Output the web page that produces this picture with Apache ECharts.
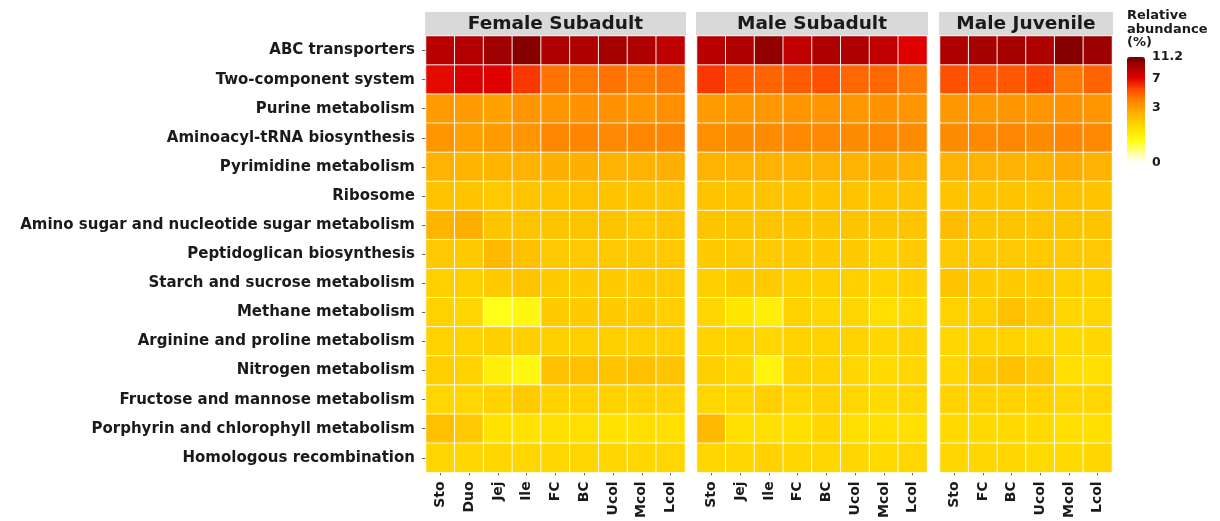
<!DOCTYPE html>
<html>
<head>
<meta charset="utf-8">
<script src="https://cdn.jsdelivr.net/npm/echarts@6/dist/echarts.min.js"></script>
<style>
  html, body { margin: 0; padding: 0; background: #ffffff; }
  #chart { width: 1220px; height: 521px; }
</style>
</head>
<body>
<div id="chart"></div>
<script>
// KEGG pathways (rows, top to bottom)
const pathways = [
  'ABC transporters',
  'Two-component system',
  'Purine metabolism',
  'Aminoacyl-tRNA biosynthesis',
  'Pyrimidine metabolism',
  'Ribosome',
  'Amino sugar and nucleotide sugar metabolism',
  'Peptidoglican biosynthesis',
  'Starch and sucrose metabolism',
  'Methane metabolism',
  'Arginine and proline metabolism',
  'Nitrogen metabolism',
  'Fructose and mannose metabolism',
  'Porphyrin and chlorophyll metabolism',
  'Homologous recombination'
];

// Gut sections sampled in each group
const sectionsFemaleSubadult = ['Sto', 'Duo', 'Jej', 'Ile', 'FC', 'BC', 'Ucol', 'Mcol', 'Lcol'];
const sectionsMaleSubadult = ['Sto', 'Jej', 'Ile', 'FC', 'BC', 'Ucol', 'Mcol', 'Lcol'];
const sectionsMaleJuvenile = ['Sto', 'FC', 'BC', 'Ucol', 'Mcol', 'Lcol'];

// Relative abundance (%), one row per pathway, one column per section
const femaleSubadult = [
  [8.7, 8.9, 9.6, 10.4, 9.1, 9.1, 9.4, 9.1, 8.5],
  [6.9, 7.4, 7.2, 5.8, 4.3, 4.2, 4.3, 4.1, 4.3],
  [3.1, 3.1, 2.9, 3.3, 3.3, 3.4, 3.4, 3.3, 3.5],
  [3.3, 3.0, 3.1, 3.3, 3.8, 3.9, 3.7, 3.8, 3.9],
  [2.4, 2.3, 2.3, 2.4, 2.5, 2.5, 2.4, 2.4, 2.5],
  [1.9, 1.9, 1.8, 1.9, 1.9, 2.0, 1.9, 1.9, 1.9],
  [2.3, 2.5, 1.9, 1.9, 1.9, 1.9, 1.9, 1.8, 1.9],
  [1.8, 1.7, 2.2, 2.0, 1.8, 1.8, 1.8, 1.8, 1.8],
  [1.6, 1.6, 1.7, 1.9, 1.7, 1.7, 1.7, 1.7, 1.7],
  [1.5, 1.4, 0.45, 0.6, 1.7, 1.7, 1.7, 1.7, 1.6],
  [1.5, 1.5, 1.6, 1.6, 1.6, 1.6, 1.6, 1.6, 1.6],
  [1.6, 1.5, 0.8, 0.6, 2.0, 2.0, 1.9, 2.0, 1.9],
  [1.4, 1.4, 1.5, 1.7, 1.5, 1.5, 1.5, 1.5, 1.5],
  [2.0, 1.8, 1.1, 1.1, 1.2, 1.2, 1.1, 1.2, 1.2],
  [1.4, 1.4, 1.4, 1.4, 1.4, 1.4, 1.4, 1.4, 1.4]
];

const maleSubadult = [
  [8.7, 9.1, 10.0, 8.4, 9.1, 9.1, 8.4, 7.2],
  [5.8, 4.9, 4.7, 4.9, 5.2, 4.6, 4.6, 4.2],
  [3.1, 3.2, 3.2, 3.3, 3.3, 3.2, 3.4, 3.3],
  [3.5, 3.6, 3.6, 3.7, 3.7, 3.6, 3.8, 3.6],
  [2.4, 2.4, 2.4, 2.4, 2.4, 2.4, 2.5, 2.4],
  [1.9, 1.9, 1.9, 1.9, 1.9, 1.9, 1.9, 1.9],
  [1.9, 1.9, 1.9, 1.9, 1.9, 1.9, 1.9, 1.9],
  [1.7, 1.8, 1.7, 1.7, 1.7, 1.7, 1.6, 1.7],
  [1.6, 1.7, 1.7, 1.6, 1.6, 1.6, 1.5, 1.6],
  [1.4, 1.0, 0.8, 1.5, 1.4, 1.4, 1.2, 1.3],
  [1.5, 1.5, 1.4, 1.5, 1.5, 1.5, 1.4, 1.5],
  [1.6, 1.4, 0.7, 1.5, 1.5, 1.4, 1.3, 1.4],
  [1.4, 1.4, 1.6, 1.4, 1.5, 1.4, 1.3, 1.4],
  [2.2, 1.2, 1.2, 1.2, 1.4, 1.2, 1.2, 1.2],
  [1.4, 1.4, 1.5, 1.4, 1.4, 1.4, 1.3, 1.4]
];

const maleJuvenile = [
  [9.1, 9.4, 9.4, 9.1, 10.4, 9.7],
  [5.2, 5.0, 5.0, 5.4, 4.2, 4.7],
  [3.2, 3.2, 3.3, 3.3, 3.4, 3.3],
  [3.6, 3.7, 3.8, 3.6, 3.9, 3.7],
  [2.4, 2.4, 2.4, 2.4, 2.6, 2.4],
  [1.9, 1.9, 1.9, 1.9, 2.0, 1.9],
  [2.1, 1.9, 1.9, 1.9, 1.9, 1.9],
  [1.8, 1.8, 1.8, 1.8, 1.8, 1.8],
  [1.9, 1.7, 1.7, 1.7, 1.6, 1.6],
  [1.5, 1.6, 2.0, 1.8, 1.4, 1.4],
  [1.4, 1.5, 1.5, 1.4, 1.3, 1.4],
  [1.4, 1.7, 2.0, 1.8, 1.2, 1.2],
  [1.5, 1.5, 1.5, 1.5, 1.4, 1.4],
  [1.3, 1.3, 1.3, 1.3, 1.2, 1.2],
  [1.4, 1.4, 1.4, 1.3, 1.3, 1.4]
];

const groupTitles = ['Female Subadult', 'Male Subadult', 'Male Juvenile'];
const legendTicks = [11.2, 7, 3, 0];
const scaleMax = 11.2;

// ---- layout ----
const FONT = 'DejaVu Sans';
const TEXT = '#1a1a1a';
const plotTop = 36, plotHeight = 440;
const panels = [
  { left: 426, width: 259, cols: sectionsFemaleSubadult, values: femaleSubadult },
  { left: 697, width: 230, cols: sectionsMaleSubadult, values: maleSubadult },
  { left: 940, width: 172, cols: sectionsMaleJuvenile, values: maleJuvenile }
];

// colour ramp on a square-root scale of abundance
const ramp = ['#ffffff', '#ffff99', '#ffff1a', '#ffe600', '#ffc800', '#ffa500',
              '#ff8000', '#ff4500', '#e00000', '#b00000', '#700000'];
const sqrtMax = Math.sqrt(scaleMax);

const grids = [], xAxes = [], yAxes = [], series = [], graphics = [];

panels.forEach((p, i) => {
  grids.push({ left: p.left, top: plotTop, width: p.width, height: plotHeight });
  xAxes.push({
    type: 'category', gridIndex: i, data: p.cols, position: 'bottom',
    axisLine: { show: false },
    axisTick: { show: true, length: 3, lineStyle: { color: '#666' }, alignWithLabel: true },
    axisLabel: { rotate: 90, margin: 9, fontFamily: FONT, fontWeight: 'bold', fontSize: 14, color: TEXT },
    splitLine: { show: false }
  });
  yAxes.push({
    type: 'category', gridIndex: i, data: pathways, inverse: true,
    axisLine: { show: false },
    axisTick: { show: i === 0, length: 4, lineStyle: { color: '#666' }, alignWithLabel: true },
    axisLabel: { show: i === 0, margin: 11, fontFamily: FONT, fontWeight: 'bold', fontSize: 15, color: TEXT },
    splitLine: { show: false }
  });
  const data = [];
  p.values.forEach((row, r) => {
    row.forEach((v, c) => data.push([c, r, v, Math.sqrt(v)]));
  });
  series.push({
    type: 'heatmap', xAxisIndex: i, yAxisIndex: i, data: data,
    itemStyle: { borderColor: 'rgba(255,255,255,0.9)', borderWidth: 1 },
    emphasis: { disabled: true }
  });
  // facet strip
  graphics.push({
    type: 'rect', left: p.left - 1, top: 12,
    shape: { width: p.width + 2, height: 23 },
    style: { fill: '#d9d9d9' }, silent: true
  });
  graphics.push({
    type: 'text', x: p.left + p.width / 2, y: 24,
    style: {
      text: groupTitles[i], fill: TEXT, font: 'bold 18.5px "DejaVu Sans"',
      textAlign: 'center', textVerticalAlign: 'middle'
    }, silent: true
  });
});

// colour bar legend
const barTop = 57, barHeight = 106, barLeft = 1127;
graphics.push({
  type: 'text', left: barLeft, top: 9,
  style: { text: 'Relative\nabundance\n(%)', fill: TEXT, font: 'bold 13px "DejaVu Sans"', lineHeight: 13.5 },
  silent: true
});
legendTicks.forEach(v => {
  const y = barTop + barHeight * (1 - Math.sqrt(v) / sqrtMax);
  graphics.push({
    type: 'text', x: barLeft + 25, y: y,
    style: { text: String(v), fill: TEXT, font: 'bold 12.5px "DejaVu Sans"', textVerticalAlign: 'middle' },
    silent: true
  });
});

const chart = echarts.init(document.getElementById('chart'), null, { renderer: 'canvas' });
chart.setOption({
  backgroundColor: '#ffffff',
  animation: false,
  grid: grids,
  xAxis: xAxes,
  yAxis: yAxes,
  visualMap: {
    type: 'continuous', dimension: 3, min: 0, max: sqrtMax,
    seriesIndex: [0, 1, 2],
    left: barLeft, top: barTop, itemWidth: 18, itemHeight: barHeight,
    padding: 0, calculable: false, hoverLink: false, text: null,
    showLabel: false,
    inRange: { color: ramp }
  },
  series: series,
  graphic: graphics
});
</script>
</body>
</html>
